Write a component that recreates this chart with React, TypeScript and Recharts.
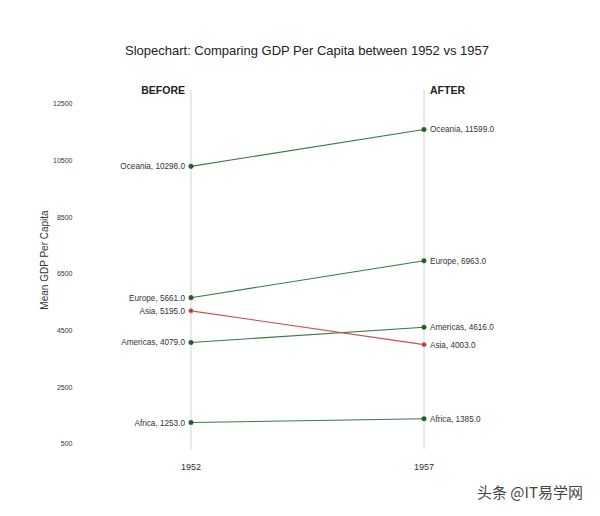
import React from "react";
import {
  LineChart,
  Line,
  XAxis,
  YAxis,
  ReferenceLine,
} from "recharts";

const continents = ["Africa", "Americas", "Asia", "Europe", "Oceania"];
const gdp1952 = [1253, 4079, 5195, 5661, 10298];
const gdp1957 = [1385, 4616, 4003, 6963, 11599];
const yearLabels = ["1952", "1957"];
const yTicks = [500, 2500, 4500, 6500, 8500, 10500, 12500];

const FONT = "'Liberation Sans', Arial, Helvetica, sans-serif";
const GREEN = "#3b7a40";
const GREEN_DOT = "#2b5a2e";
const RED = "#cf4a4a";
const RED_DOT = "#a83434";

const series = continents.map((name, i) => ({
  name,
  up: gdp1957[i] - gdp1952[i] > 0,
  data: [
    { x: 1, y: gdp1952[i] },
    { x: 3, y: gdp1957[i] },
  ],
}));

const makeLabel = (name: string) => (props: any) => {
  const { x, y, index, value } = props;
  const left = index === 0;
  return (
    <text
      x={left ? x - 6 : x + 6}
      y={y}
      dy={3}
      textAnchor={left ? "end" : "start"}
      fontSize={8.2}
      fontFamily={FONT}
      fill="#333"
    >
      {`${name}, ${Number(value).toFixed(1)}`}
    </text>
  );
};

const headerLabel = (text: string, side: "left" | "right") => (props: any) => {
  const vb = props.viewBox || {};
  const x = vb.x ?? 0;
  const y = vb.y ?? 0;
  return (
    <text
      x={side === "left" ? x - 6 : x + 6}
      y={y + 4}
      textAnchor={side === "left" ? "end" : "start"}
      fontSize={10.5}
      fontWeight="bold"
      fontFamily={FONT}
      fill="#222"
    >
      {text}
    </text>
  );
};

export default function App() {
  return (
    <div
      style={{
        position: "fixed",
        left: 0,
        top: 0,
        width: 600,
        height: 516,
        background: "#fff",
        fontFamily: FONT,
      }}
    >
      <div
        style={{
          position: "absolute",
          top: 43,
          left: 107,
          width: 400,
          textAlign: "center",
          fontSize: 13,
          color: "#222",
        }}
      >
        Slopechart: Comparing GDP Per Capita between 1952 vs 1957
      </div>
      <LineChart
        width={600}
        height={516}
        margin={{ top: 61.5, right: 59.5, bottom: 28, left: 0 }}
        style={{ position: "absolute", left: 0, top: 0 }}
      >
        <XAxis
          type="number"
          dataKey="x"
          domain={[0, 4]}
          ticks={[1, 3]}
          tickFormatter={(v: number) => (v === 1 ? yearLabels[0] : yearLabels[1])}
          axisLine={false}
          tickLine={false}
          tickSize={0}
          tickMargin={6}
          height={30}
          tick={{ fill: "#333", fontSize: 9, fontFamily: FONT }}
          allowDuplicatedCategory={false}
        />
        <YAxis
          type="number"
          domain={[0, 14000]}
          ticks={yTicks}
          axisLine={false}
          tickLine={false}
          tickSize={0}
          tickMargin={2}
          width={74.5}
          tick={{ fill: "#333", fontSize: 7, fontFamily: FONT }}
          label={() => (
            <text
              x={48}
              y={260}
              transform="rotate(-90 48 260)"
              textAnchor="middle"
              fontSize={10}
              fontFamily={FONT}
              fill="#333"
            >
              Mean GDP Per Capita
            </text>
          )}
        />
        <ReferenceLine
          segment={[
            { x: 1, y: 300 },
            { x: 1, y: 13000 },
          ]}
          stroke="#d4d4d4"
          strokeWidth={1}
          label={headerLabel("BEFORE", "left")}
          ifOverflow="visible"
        />
        <ReferenceLine
          segment={[
            { x: 3, y: 300 },
            { x: 3, y: 13000 },
          ]}
          stroke="#d4d4d4"
          strokeWidth={1}
          label={headerLabel("AFTER", "right")}
          ifOverflow="visible"
        />
        {series.map((s) => (
          <Line
            key={s.name}
            data={s.data}
            dataKey="y"
            type="linear"
            stroke={s.up ? GREEN : RED}
            strokeWidth={1.1}
            isAnimationActive={false}
            dot={{
              r: 2.3,
              fill: s.up ? GREEN_DOT : RED_DOT,
              stroke: s.up ? GREEN_DOT : "#e89a9a",
              strokeWidth: s.up ? 0.5 : 1,
            }}
            activeDot={false}
            label={makeLabel(s.name)}
          />
        ))}
      </LineChart>
      <div
        style={{
          position: "absolute",
          left: 477,
          top: 481,
          fontSize: 15,
          color: "#444",
          fontFamily: "'Noto Sans CJK SC', sans-serif",
        }}
      >
        头条 @IT易学网
      </div>
    </div>
  );
}
